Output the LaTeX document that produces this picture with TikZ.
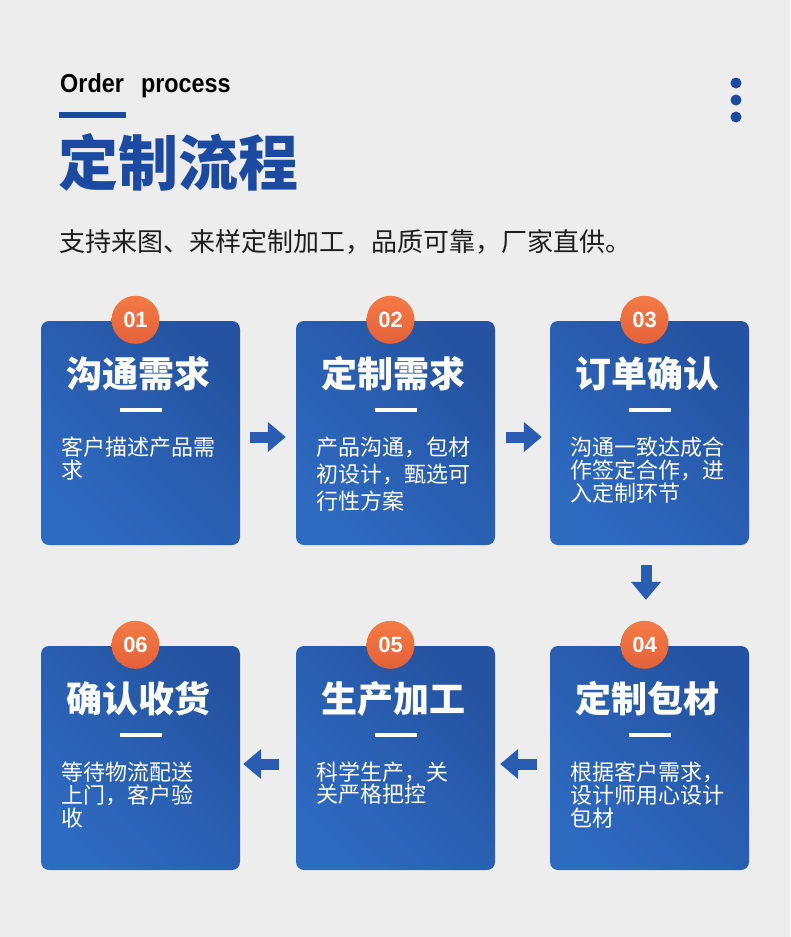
\documentclass[tikz,border=0pt]{standalone}
\usepackage{fontspec}
\usepackage{graphicx}
\newfontfamily\cjk{Noto Sans CJK SC}
\newfontfamily\cjkheavy{Noto Sans CJK SC Black}
\newfontfamily\latin{Liberation Sans}
\usetikzlibrary{arrows.meta,calc}
\definecolor{pagebg}{HTML}{EDEDED}
\definecolor{headblue}{HTML}{1B4AA0}
\definecolor{cardhi}{HTML}{2553A1}
\definecolor{cardlo}{HTML}{2E6AC0}
\definecolor{arrowblue}{HTML}{2A5DB2}
\definecolor{badgetop}{HTML}{F47B45}
\definecolor{badgebot}{HTML}{E4613A}
\definecolor{subgray}{HTML}{1E1E1E}

\begin{document}
\begin{tikzpicture}[
  x=1pt,y=-1pt,
  card/.style={rectangle,rounded corners=8pt,minimum width=199pt,minimum height=224pt,
    inner sep=0pt,top color=cardhi,bottom color=cardlo,shading angle=-45},
  badge/.style={circle,minimum size=48pt,inner sep=0pt,top color=badgetop,bottom color=badgebot,
    text=white,font=\latin\bfseries\fontsize{22}{24}\selectfont},
  cardtitle/.style={inner sep=0pt,text=white,font=\cjk\bfseries\fontsize{36}{40}\selectfont},
  desc/.style={anchor=north west,inner sep=0pt,align=left,text=white},
  whitebar/.style={white,line width=4pt},
  flow/.style={arrowblue,line width=11pt,-{Triangle[length=18pt,width=29pt]}},
]

% ---------- page ----------
\fill[pagebg] (0,0) rectangle (790,937);
\useasboundingbox (0,0) rectangle (790,937);

% ---------- header ----------
\node[anchor=base west,inner sep=0pt,font=\latin\bfseries\fontsize{26}{30}\selectfont] (entitle)
  at (60,92) {\scalebox{0.9}[1]{Order\hspace{19pt}process}};
\fill[headblue] (59,112) rectangle (126,118);
\node[anchor=west,inner sep=0pt,text=headblue,font=\cjkheavy\fontsize{60}{64}\selectfont] (cntitle)
  at (58,162.5) {定制流程};
\node[anchor=west,inner sep=0pt,text=subgray,font=\cjk\fontsize{26}{30}\selectfont] (subtitle)
  at (59,241.5) {支持来图、来样定制加工，品质可靠，厂家直供。};
\foreach \i in {0,1,2}
  \fill[headblue] (736,83+\i*17) circle (5.5pt);

% ---------- the six steps ----------
\foreach \n/\cx/\cy/\ttl/\dsc/\lsk in {
  1/140.5/433/沟通需求/{客户描述产品需\\求}/23,
  2/395.5/433/定制需求/{产品沟通，包材\\初设计，甄选可\\行性方案}/27,
  3/649.5/433/订单确认/{沟通一致达成合\\作签定合作，进\\入定制环节}/23,
  4/649.5/758/定制包材/{根据客户需求，\\设计师用心设计\\包材}/23,
  5/395.5/758/生产加工/{科学生产，关\\关严格把控}/22,
  6/140.5/758/确认收货/{等待物流配送\\上门，客户验\\收}/23}{
  \node[card] (c\n) at (\cx,\cy) {};
  \node[badge] (b\n) at ($(c\n.north)+(-5,-1)$) {0\n};
  \node[cardtitle] (t\n) at ($(c\n.north)+(-2,53)$) {\ttl};
  \draw[whitebar] ($(c\n.north)+(-21,89)$) -- ++(42,0);
  \node[desc,font=\cjk\fontsize{22}{\lsk}\selectfont] (d\n) at ($(c\n.north west)+(20,116)$) {\dsc};
}

% ---------- arrows between steps ----------
\draw[flow] ($(c1.east)+(10,4)$) -- ($(c2.west)+(-10,4)$);
\draw[flow] ($(c2.east)+(11,4)$) -- ($(c3.west)+(-8,4)$);
\draw[flow] ($(c3.south)+(-3.5,20)$) -- ($(c4.north)+(-3.5,-46)$);
\draw[flow] ($(c4.west)+(-13,6)$) -- ($(c5.east)+(5,6)$);
\draw[flow] ($(c5.west)+(-17,6)$) -- ($(c6.east)+(3,6)$);

\end{tikzpicture}
\end{document}
